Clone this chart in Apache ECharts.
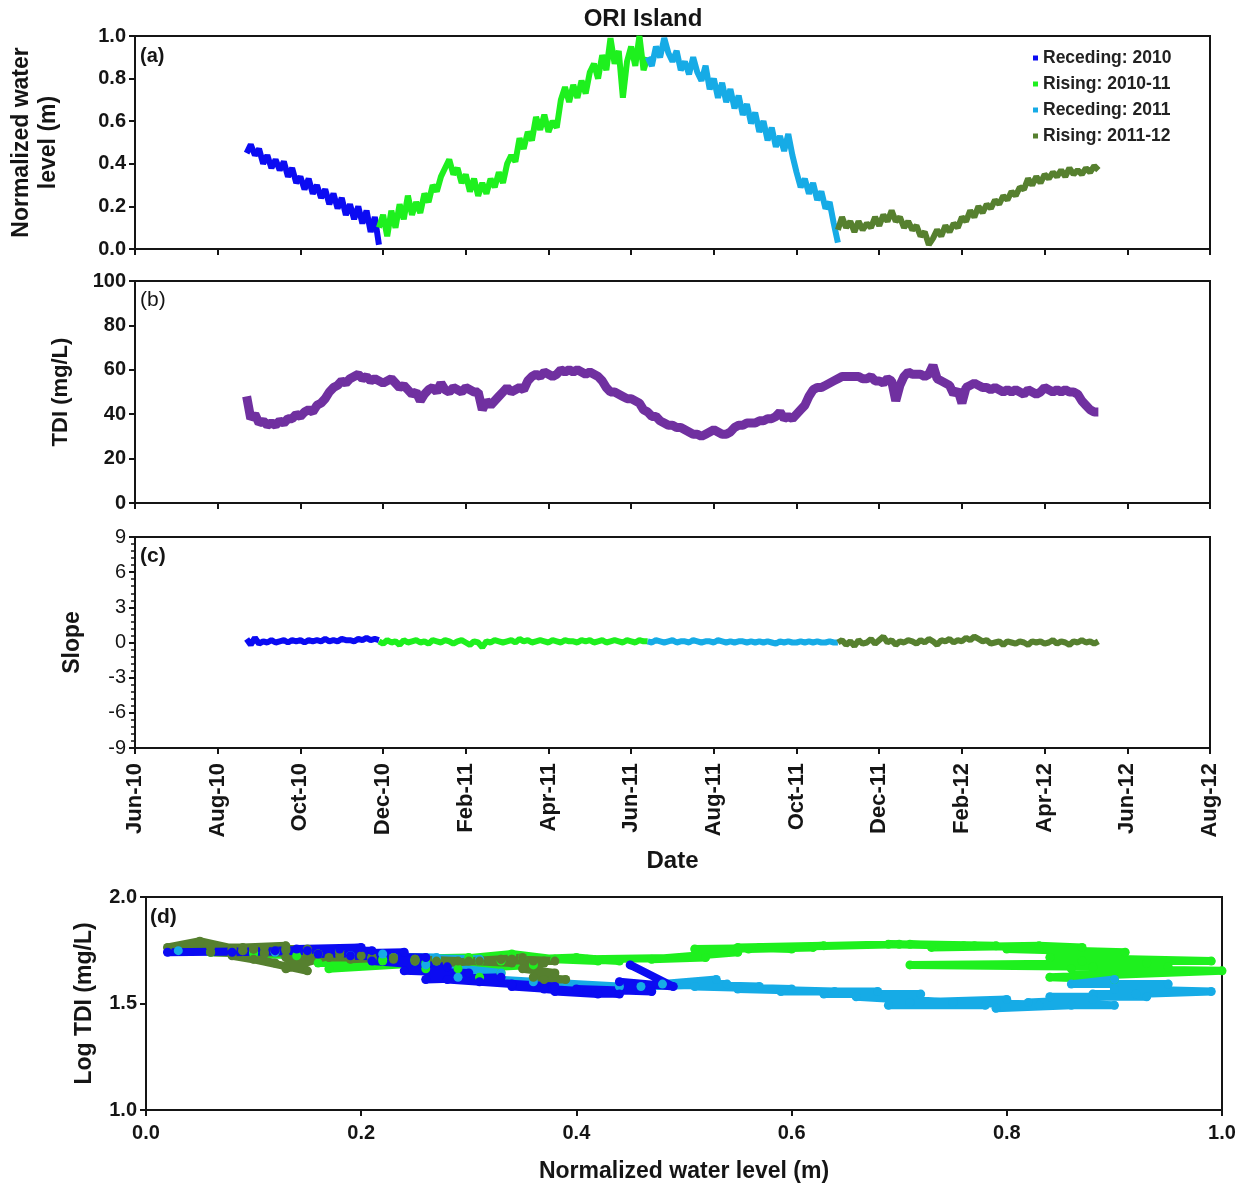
<!DOCTYPE html>
<html>
<head>
<meta charset="utf-8">
<script src="https://cdn.jsdelivr.net/npm/echarts@6.0.0/dist/echarts.min.js"></script>
<style>
  html, body { margin: 0; padding: 0; background: #ffffff; }
  #chart { width: 1245px; height: 1187px; }
</style>
</head>
<body>
<div id="chart"></div>
<script>
// Time is counted in months from 1 Jun 2010; one reading every 0.1 month.
const monthLabels = ['Jun-10', 'Aug-10', 'Oct-10', 'Dec-10', 'Feb-11', 'Apr-11', 'Jun-11',
                     'Aug-11', 'Oct-11', 'Dec-11', 'Feb-12', 'Apr-12', 'Jun-12', 'Aug-12'];
const phaseNames = ['Receding: 2010', 'Rising: 2010-11', 'Receding: 2011', 'Rising: 2011-12'];
const phaseStart = [2.7, 5.9, 12.4, 17.0];
const firstSample = 2.7;
const sampleStep = 0.1;

// Normalized water level (m) per phase
const levelReceding2010 = [
  0.45, 0.49, 0.44, 0.47, 0.40, 0.44, 0.38, 0.42, 0.37, 0.41,
  0.34, 0.38, 0.31, 0.34, 0.28, 0.33, 0.26, 0.30, 0.24, 0.28,
  0.21, 0.26, 0.19, 0.24, 0.16, 0.21, 0.14, 0.20, 0.12, 0.18,
  0.08, 0.15, 0.02
];
const levelRising2010 = [
  0.10, 0.16, 0.06, 0.18, 0.10, 0.21, 0.14, 0.25, 0.16, 0.22,
  0.17, 0.26, 0.22, 0.30, 0.27, 0.34, 0.38, 0.42, 0.35, 0.38,
  0.31, 0.35, 0.27, 0.33, 0.25, 0.31, 0.26, 0.33, 0.29, 0.36,
  0.31, 0.40, 0.44, 0.41, 0.52, 0.47, 0.55, 0.51, 0.62, 0.56,
  0.63, 0.55, 0.60, 0.57, 0.70, 0.76, 0.69, 0.77, 0.71, 0.79,
  0.73, 0.83, 0.87, 0.80, 0.91, 0.84, 0.99, 0.87, 0.93, 0.71,
  0.88, 0.95, 0.86, 1.00, 0.84, 0.90
];
const levelReceding2011 = [
  0.90, 0.86, 0.95, 0.90, 0.99, 0.92, 0.88, 0.93, 0.84, 0.88,
  0.82, 0.90, 0.83, 0.79, 0.86, 0.75, 0.80, 0.71, 0.78, 0.69,
  0.75, 0.66, 0.72, 0.63, 0.68, 0.59, 0.64, 0.55, 0.60, 0.51,
  0.57, 0.48, 0.53, 0.46, 0.54, 0.44, 0.36, 0.29, 0.33, 0.26,
  0.31, 0.23, 0.27, 0.19, 0.22, 0.12, 0.03
];
const levelRising2011 = [
  0.09, 0.15, 0.10, 0.13, 0.08, 0.13, 0.09, 0.12, 0.10, 0.15,
  0.11, 0.16, 0.13, 0.18, 0.13, 0.15, 0.10, 0.13, 0.09, 0.11,
  0.06, 0.08, 0.02, 0.05, 0.09, 0.06, 0.11, 0.08, 0.12, 0.10,
  0.15, 0.13, 0.18, 0.15, 0.20, 0.17, 0.21, 0.19, 0.23, 0.21,
  0.25, 0.23, 0.27, 0.25, 0.29, 0.28, 0.33, 0.30, 0.34, 0.31,
  0.35, 0.33, 0.36, 0.34, 0.37, 0.34, 0.38, 0.35, 0.37, 0.35,
  0.38, 0.36, 0.39, 0.37
];

// TDI (mg/L), whole record from month 2.7 to 23.3
const tdiValues = [
  48, 38, 40, 36, 37, 35, 36, 35, 37, 36,
  38, 38, 40, 39, 41, 42, 41, 44, 45, 47,
  50, 52, 53, 55, 54, 56, 57, 58, 56, 57,
  55, 56, 55, 54, 55, 56, 54, 52, 53, 51,
  49, 50, 46, 49, 51, 52, 50, 54, 51, 50,
  52, 51, 50, 52, 51, 50, 50, 42, 46, 44,
  46, 48, 50, 52, 50, 51, 52, 51, 55, 57,
  58, 57, 59, 58, 57, 58, 60, 59, 60, 59,
  60, 59, 58, 59, 58, 57, 55, 52, 50, 50,
  49, 48, 47, 47, 46, 45, 42, 41, 39, 39,
  37, 36, 35, 35, 34, 34, 33, 32, 31, 31,
  30, 31, 32, 33, 32, 31, 31, 32, 34, 35,
  35, 36, 36, 36, 37, 37, 38, 38, 39, 41,
  38, 39, 38, 40, 42, 44, 48, 51, 52, 52,
  53, 54, 55, 56, 57, 57, 57, 57, 57, 56,
  56, 57, 55, 55, 54, 56, 55, 46, 53, 57,
  59, 58, 58, 58, 57, 58, 62, 56, 55, 54,
  53, 49, 51, 45, 52, 53, 54, 53, 52, 52,
  51, 52, 51, 50, 51, 50, 51, 50, 49, 51,
  50, 49, 50, 52, 51, 50, 51, 50, 51, 50,
  50, 49, 46, 44, 42, 41, 41
];

// Slope per phase
const slopeReceding2010 = [
  0.3, -0.2, 0.4, -0.1, 0.1, 0.0, 0.2, 0.0, 0.1, 0.2,
  0.0, 0.2, 0.1, 0.2, 0.0, 0.2, 0.1, 0.2, 0.1, 0.3,
  0.1, 0.2, 0.1, 0.3, 0.2, 0.2, 0.1, 0.3, 0.2, 0.4,
  0.2, 0.3, 0.2
];
const slopeRising2010 = [
  0.1, -0.1, 0.2, 0.0, 0.1, -0.2, 0.2, 0.0, 0.1, 0.2,
  0.0, 0.1, -0.1, 0.2, 0.1, 0.0, 0.2, 0.1, -0.1, 0.1,
  0.2, 0.0, -0.2, 0.1, 0.0, -0.4, 0.1, 0.0, 0.2, 0.1,
  0.0, 0.1, 0.2, 0.0, 0.3, 0.1, 0.2, 0.0, 0.1, 0.2,
  0.1, 0.0, 0.2, 0.1, 0.0, 0.2, 0.1, 0.1, 0.0, 0.2,
  0.1, 0.2, 0.0, 0.1, 0.2, 0.0, 0.1, 0.2, 0.1, 0.0,
  0.2, 0.1, 0.0, 0.2, 0.1, 0.1
];
const slopeReceding2011 = [
  0.1, 0.0, 0.2, 0.1, 0.0, 0.1, 0.2, 0.0, 0.1, 0.1,
  0.0, 0.2, 0.1, 0.0, 0.1, 0.1, 0.0, 0.2, 0.1, 0.0,
  0.1, 0.0, 0.1, 0.1, 0.0, 0.1, 0.0, 0.1, 0.0, 0.1,
  0.0, -0.1, 0.1, 0.0, 0.1, 0.0, 0.0, 0.1, 0.0, 0.1,
  0.0, 0.1, 0.0, 0.0, 0.1, 0.0, 0.0
];
const slopeRising2011 = [
  0.0, 0.2, -0.2, 0.1, -0.3, 0.2, -0.1, 0.0, 0.3, -0.1,
  0.2, 0.5, 0.0, 0.2, -0.2, 0.1, 0.0, 0.2, 0.1, -0.1,
  0.2, 0.0, 0.3, 0.1, -0.2, 0.2, 0.1, 0.3, 0.0, 0.2,
  0.1, 0.4, 0.2, 0.5, 0.3, 0.1, 0.2, -0.1, 0.0, 0.1,
  -0.2, 0.1, 0.0, -0.1, 0.1, 0.0, -0.2, 0.1, 0.0, 0.1,
  -0.1, 0.0, 0.2, -0.1, 0.1, 0.0, -0.2, 0.1, 0.0, 0.2,
  0.0, 0.1, -0.1, 0.1
];

const phaseLevels = [levelReceding2010, levelRising2010, levelReceding2011, levelRising2011];
const phaseSlopes = [slopeReceding2010, slopeRising2010, slopeReceding2011, slopeRising2011];
const phaseColors = ['#0b0bf2', '#1ef01e', '#16abe6', '#56802f'];
const tdiColor = '#7030a0';

const FONT = '"Liberation Sans", Arial, sans-serif';
const INK = '#151515';

function monthOf(start, i) { return Math.round((start + i * sampleStep) * 100) / 100; }
function timed(values, start) { return values.map((v, i) => [monthOf(start, i), v]); }
function tdiOffset(start) { return Math.round((start - firstSample) / sampleStep); }

const frameLine = { lineStyle: { color: INK, width: 2 } };

function dateAxis(gridIndex, withLabels) {
  return {
    gridIndex, type: 'value', min: 0, max: 26, interval: 2,
    axisLine: { show: true, onZero: false, ...frameLine },
    axisTick: { show: true, length: 6, lineStyle: { color: INK, width: 2 } },
    splitLine: { show: false },
    axisLabel: withLabels ? {
      rotate: 90, margin: 15, color: INK,
      fontFamily: FONT, fontWeight: 'bold', fontSize: 22,
      formatter: v => monthLabels[Math.round(v / 2)]
    } : { show: false },
    name: withLabels ? 'Date' : '',
    nameLocation: 'middle', nameGap: 101,
    nameTextStyle: { fontFamily: FONT, fontWeight: 'bold', fontSize: 24, color: INK }
  };
}

function valueAxis(gridIndex, min, max, interval, name, gap, opts) {
  return Object.assign({
    gridIndex, type: 'value', min, max, interval,
    axisLine: { show: true, onZero: false, ...frameLine },
    axisTick: { show: true, length: 6, lineStyle: { color: INK, width: 2 } },
    splitLine: { show: false },
    name, nameLocation: 'middle', nameGap: gap,
    nameTextStyle: { fontFamily: FONT, fontWeight: 'bold', fontSize: 23, color: INK, lineHeight: 27 },
    axisLabel: { color: INK, fontFamily: FONT, fontWeight: 'bold', fontSize: 20, margin: 9 }
  }, opts || {});
}

const grids = [
  { left: 135, width: 1075, top: 36, height: 213 },
  { left: 135, width: 1075, top: 281, height: 222 },
  { left: 135, width: 1075, top: 537, height: 211 },
  { left: 146, width: 1076, top: 897, height: 213 }
].map(g => Object.assign(g, { show: true, borderColor: INK, borderWidth: 2, containLabel: false }));

const series = [];

// (a) water level
phaseLevels.forEach((vals, k) => {
  series.push({
    name: phaseNames[k], type: 'line', xAxisIndex: 0, yAxisIndex: 0,
    data: timed(vals, phaseStart[k]), showSymbol: false, symbol: 'rect',
    lineStyle: { color: phaseColors[k], width: 6 }, itemStyle: { color: phaseColors[k] },
    silent: true
  });
});

// (b) TDI
series.push({
  name: 'TDI', type: 'line', xAxisIndex: 1, yAxisIndex: 1,
  data: timed(tdiValues, firstSample), showSymbol: false,
  lineStyle: { color: tdiColor, width: 9 }, itemStyle: { color: tdiColor }, silent: true
});

// (c) slope
phaseSlopes.forEach((vals, k) => {
  series.push({
    name: phaseNames[k], type: 'line', xAxisIndex: 2, yAxisIndex: 2,
    data: timed(vals, phaseStart[k]), showSymbol: false, symbol: 'rect',
    lineStyle: { color: phaseColors[k], width: 6 }, itemStyle: { color: phaseColors[k] },
    silent: true
  });
});

// (d) log TDI against water level, drawn phase by phase
[1, 2, 3, 0].forEach(k => {
  const off = tdiOffset(phaseStart[k]);
  const pts = phaseLevels[k].map((lv, i) => [lv, Math.log10(tdiValues[off + i])]);
  series.push({
    name: phaseNames[k], type: 'line', xAxisIndex: 3, yAxisIndex: 3,
    data: pts, symbol: 'circle', symbolSize: 9, showSymbol: true,
    lineStyle: { color: phaseColors[k], width: 8, cap: 'round', join: 'round' },
    itemStyle: { color: phaseColors[k] },
    silent: true
  });
});

const option = {
  animation: false,
  backgroundColor: '#ffffff',
  grid: grids,
  xAxis: [
    dateAxis(0, false), dateAxis(1, false), dateAxis(2, true),
    valueAxis(3, 0, 1, 0.2, 'Normalized water level (m)', 50, {
      axisLabel: { color: INK, fontFamily: FONT, fontWeight: 'bold', fontSize: 20, margin: 13, formatter: v => v.toFixed(1) },
      nameTextStyle: { fontFamily: FONT, fontWeight: 'bold', fontSize: 23, color: INK }
    })
  ],
  yAxis: [
    valueAxis(0, 0, 1, 0.2, 'Normalized water\nlevel (m)', 73, {
      axisLabel: { color: INK, fontFamily: FONT, fontWeight: 'bold', fontSize: 20, margin: 9, formatter: v => v.toFixed(1) }
    }),
    valueAxis(1, 0, 100, 20, 'TDI (mg/L)', 63, {
      nameTextStyle: { fontFamily: FONT, fontWeight: 'bold', fontSize: 22, color: INK }
    }),
    valueAxis(2, -9, 9, 3, 'Slope', 49, {
      minorTick: { show: true, splitNumber: 5, length: 4, lineStyle: { color: INK, width: 1.5 } },
      axisLabel: { color: INK, fontFamily: FONT, fontSize: 20, margin: 9 }
    }),
    valueAxis(3, 1, 2, 0.5, 'Log TDI (mg/L)', 46, {
      axisLabel: { color: INK, fontFamily: FONT, fontWeight: 'bold', fontSize: 20, margin: 9, formatter: v => v.toFixed(1) }
    })
  ],
  legend: {
    data: phaseNames, orient: 'vertical', left: 1028, top: 44,
    icon: 'rect', itemWidth: 5, itemHeight: 5, itemGap: 8,
    selectedMode: false,
    textStyle: { fontFamily: FONT, fontWeight: 'bold', fontSize: 17.5, color: '#222' }
  },
  graphic: [
    { type: 'text', x: 643, y: 19, style: { text: 'ORI Island', font: 'bold 24px ' + FONT, fill: INK, align: 'center', verticalAlign: 'middle' } },
    { type: 'text', x: 140, y: 56, style: { text: '(a)', font: 'bold 20px ' + FONT, fill: INK, verticalAlign: 'middle' } },
    { type: 'text', x: 140, y: 300, style: { text: '(b)', font: '21px ' + FONT, fill: INK, verticalAlign: 'middle' } },
    { type: 'text', x: 140, y: 556, style: { text: '(c)', font: 'bold 21px ' + FONT, fill: INK, verticalAlign: 'middle' } },
    { type: 'text', x: 150, y: 917, style: { text: '(d)', font: 'bold 21px ' + FONT, fill: INK, verticalAlign: 'middle' } }
  ],
  series
};

const chart = echarts.init(document.getElementById('chart'), null, { renderer: 'canvas' });
chart.setOption(option);
</script>
</body>
</html>
